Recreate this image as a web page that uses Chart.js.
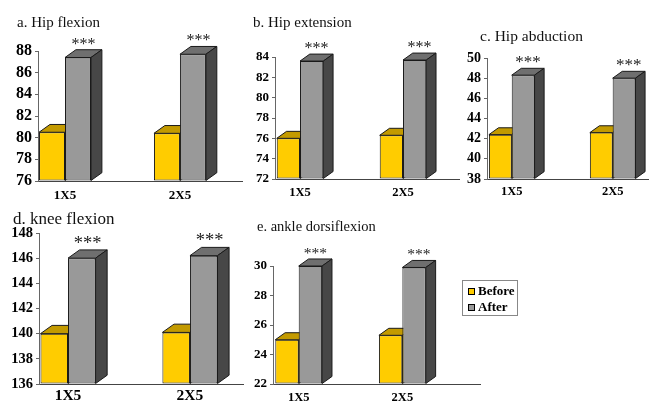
<!DOCTYPE html>
<html>
<head>
<meta charset="utf-8">
<title>Range of motion before / after</title>
<script src="https://cdn.jsdelivr.net/npm/chart.js@4.4.0/dist/chart.umd.min.js"></script>
<style>
  html, body { margin: 0; padding: 0; background: #fff; }
  #wrap { position: relative; width: 654px; height: 407px; overflow: hidden; }
  #wrap canvas { position: absolute; left: 0; top: 0; }
  #legend {
    position: absolute; left: 462px; top: 280px; width: 56px; height: 36px;
    box-sizing: border-box; border: 1px solid #888; padding: 2px 0 0 5px;
    font: bold 13px "Liberation Serif", serif; color: #000;
  }
  #legend .row { height: 16px; display: flex; align-items: center; }
  #legend .sw { width: 5px; height: 5px; border: 1px solid #000; margin-right: 3px; }
</style>
</head>
<body>
<div id="wrap">
  <canvas id="chart-a" width="654" height="407"></canvas>
  <canvas id="chart-b" width="654" height="407"></canvas>
  <canvas id="chart-c" width="654" height="407"></canvas>
  <canvas id="chart-d" width="654" height="407"></canvas>
  <canvas id="chart-e" width="654" height="407"></canvas>
  <div id="legend"></div>
</div>
<script>
const categories = ['1X5', '2X5'];
const seriesNames = ['Before', 'After'];
const significance = ['***', '***'];

const hipFlexionBefore = [80.5, 80.4];
const hipFlexionAfter = [87.4, 87.7];
const hipExtensionBefore = [76.0, 76.3];
const hipExtensionAfter = [83.6, 83.7];
const hipAbductionBefore = [42.4, 42.6];
const hipAbductionAfter = [48.3, 48.0];
const kneeFlexionBefore = [140.0, 140.1];
const kneeFlexionAfter = [146.0, 146.2];
const ankleBefore = [25.0, 25.3];
const ankleAfter = [30.0, 29.9];

// y axis: min, max, step
const hipFlexionTicks = [76, 88, 2];
const hipExtensionTicks = [72, 84, 2];
const hipAbductionTicks = [38, 50, 2];
const kneeFlexionTicks = [136, 148, 2];
const ankleTicks = [22, 30, 2];

// front / top / side face colours per series
const frontColors = ['#FFCC00', '#999999'];
const topColors = ['#C39A00', '#6F6F6F'];
const sideColors = ['#9C7A00', '#474747'];

const FONT = '"Liberation Serif", "Times New Roman", serif';
const Y_W = 34;
const X_H = 24;

const panels = [
    { id: 'chart-a', title: 'a. Hip flexion', before: hipFlexionBefore, after: hipFlexionAfter, ticks: hipFlexionTicks,
      area: { left: 38, top: 51, bottom: 181, right: 242 }, xRange: [-0.235, 1.54],
      titleAt: [17, 27], titleSize: 15, tickSize: 16, labelSize: 13, labelPad: 7, starSize: 16 },
    { id: 'chart-b', title: 'b. Hip extension', before: hipExtensionBefore, after: hipExtensionAfter, ticks: hipExtensionTicks,
      area: { left: 275, top: 57, bottom: 179, right: 459 }, xRange: [-0.243, 1.544],
      titleAt: [253, 27], titleSize: 15, tickSize: 13, labelSize: 12.5, labelPad: 6, starSize: 16 },
    { id: 'chart-c', title: 'c. Hip abduction', before: hipAbductionBefore, after: hipAbductionAfter, ticks: hipAbductionTicks,
      area: { left: 487, top: 58, bottom: 179, right: 648 }, xRange: [-0.245, 1.35],
      titleAt: [480, 41], titleSize: 15.5, tickSize: 14, labelSize: 12.5, labelPad: 5, starSize: 17 },
    { id: 'chart-d', title: 'd. knee flexion', before: kneeFlexionBefore, after: kneeFlexionAfter, ticks: kneeFlexionTicks,
      area: { left: 39, top: 233, bottom: 384, right: 243 }, xRange: [-0.238, 1.435],
      titleAt: [13, 223.5], titleSize: 17, tickSize: 14.5, labelSize: 15.5, labelPad: 3, starSize: 18.5 },
    { id: 'chart-e', title: 'e. ankle dorsiflexion', before: ankleBefore, after: ankleAfter, ticks: ankleTicks,
      area: { left: 273, top: 266, bottom: 384, right: 480 }, xRange: [-0.248, 1.749],
      titleAt: [257, 231], titleSize: 14.5, tickSize: 13, labelSize: 12.5, labelPad: 6, starSize: 15.5 }
];

document.addEventListener('DOMContentLoaded', function() {
    panels.forEach(createPanel);
    buildLegend();
});

function poly(ctx, pts, fill) {
    ctx.beginPath();
    ctx.moveTo(pts[0][0], pts[0][1]);
    for (let i = 1; i < pts.length; i++) ctx.lineTo(pts[i][0], pts[i][1]);
    ctx.closePath();
    ctx.fillStyle = fill;
    ctx.fill();
    ctx.stroke();
}

function tickValues(spec) {
    const out = [];
    for (let v = spec[0]; v <= spec[1] + 1e-9; v += spec[2]) out.push({ value: v });
    return out;
}

// draws the bars ourselves so that the 3D faces stack in series order
const bar3d = {
    id: 'bar3d',
    beforeDatasetDraw() {
        return false;
    },
    afterDatasetsDraw(chart, _args, opts) {
        const ctx = chart.ctx;
        chart.data.datasets.forEach((_ds, i) => {
            const meta = chart.getDatasetMeta(i);
            meta.data.forEach((bar, j) => {
                const p = bar.getProps(['x', 'y', 'base', 'width'], true);
                const dx = p.width * 0.42;
                const dy = p.width * 0.3;
                const l = p.x - p.width / 2;
                const r = p.x + p.width / 2;
                bar.draw(ctx);
                ctx.save();
                ctx.lineWidth = 1;
                ctx.strokeStyle = '#1a1a1a';
                ctx.lineJoin = 'round';
                poly(ctx, [[l, p.y], [l + dx, p.y - dy], [r + dx, p.y - dy], [r, p.y]], topColors[i]);
                poly(ctx, [[r, p.y], [r + dx, p.y - dy], [r + dx, p.base - dy], [r, p.base]], sideColors[i]);
                ctx.restore();

                if (i === chart.data.datasets.length - 1) {
                    ctx.save();
                    ctx.font = opts.starSize + 'px ' + FONT;
                    ctx.fillStyle = '#222';
                    ctx.textAlign = 'center';
                    ctx.textBaseline = 'alphabetic';
                    ctx.fillText(significance[j], p.x + dx / 2, p.y - dy - 1);
                    ctx.restore();
                }
            });
        });
    }
};

const panelTitle = {
    id: 'panelTitle',
    afterDraw(chart, _args, opts) {
        const ctx = chart.ctx;
        ctx.save();
        ctx.font = opts.size + 'px ' + FONT;
        ctx.fillStyle = '#111';
        ctx.textAlign = 'left';
        ctx.textBaseline = 'alphabetic';
        ctx.fillText(opts.text, opts.x, opts.y);
        ctx.restore();
    }
};

function createPanel(p) {
    const ctx = document.getElementById(p.id).getContext('2d');
    const a = p.area;
    new Chart(ctx, {
        type: 'bar',
        data: {
            datasets: [
                {
                    label: seriesNames[0],
                    data: p.before.map((v, i) => ({ x: i, y: v })),
                    backgroundColor: frontColors[0]
                },
                {
                    label: seriesNames[1],
                    data: p.after.map((v, i) => ({ x: i, y: v })),
                    backgroundColor: frontColors[1]
                }
            ]
        },
        options: {
            responsive: false,
            animation: false,
            devicePixelRatio: 1,
            layout: {
                padding: { left: a.left - Y_W, top: a.top, right: 654 - a.right, bottom: 407 - a.bottom - X_H }
            },
            datasets: {
                bar: {
                    base: p.ticks[0],
                    borderWidth: 1,
                    borderColor: '#1a1a1a',
                    borderSkipped: false,
                    barPercentage: 1,
                    categoryPercentage: 0.452
                }
            },
            scales: {
                x: {
                    type: 'linear',
                    offset: false,
                    min: p.xRange[0],
                    max: p.xRange[1],
                    afterBuildTicks: scale => {
                        scale.ticks = categories.map((_c, i) => ({ value: i }));
                    },
                    afterFit: scale => { scale.height = X_H; },
                    ticks: {
                        autoSkip: false,
                        callback: value => categories[Math.round(value)],
                        color: '#000',
                        padding: p.labelPad,
                        font: { family: FONT, weight: 'bold', size: p.labelSize }
                    },
                    grid: { display: false, drawTicks: false },
                    border: { display: true, color: '#444', width: 1 }
                },
                y: {
                    min: p.ticks[0],
                    max: p.ticks[1],
                    afterBuildTicks: scale => { scale.ticks = tickValues(p.ticks); },
                    afterFit: scale => { scale.width = Y_W; },
                    ticks: {
                        autoSkip: false,
                        color: '#000',
                        padding: 3,
                        font: { family: FONT, weight: 'bold', size: p.tickSize }
                    },
                    grid: { display: true, drawOnChartArea: false, drawTicks: true, tickLength: 3, color: '#666' },
                    border: { display: true, color: '#666', width: 1 }
                }
            },
            plugins: {
                legend: { display: false },
                tooltip: { enabled: false },
                bar3d: { starSize: p.starSize },
                panelTitle: { text: p.title, x: p.titleAt[0], y: p.titleAt[1], size: p.titleSize }
            }
        },
        plugins: [bar3d, panelTitle]
    });
}

function buildLegend() {
    const box = document.getElementById('legend');
    seriesNames.forEach((name, i) => {
        const row = document.createElement('div');
        row.className = 'row';
        const sw = document.createElement('span');
        sw.className = 'sw';
        sw.style.background = frontColors[i];
        row.appendChild(sw);
        row.appendChild(document.createTextNode(name));
        box.appendChild(row);
    });
}
</script>
</body>
</html>
